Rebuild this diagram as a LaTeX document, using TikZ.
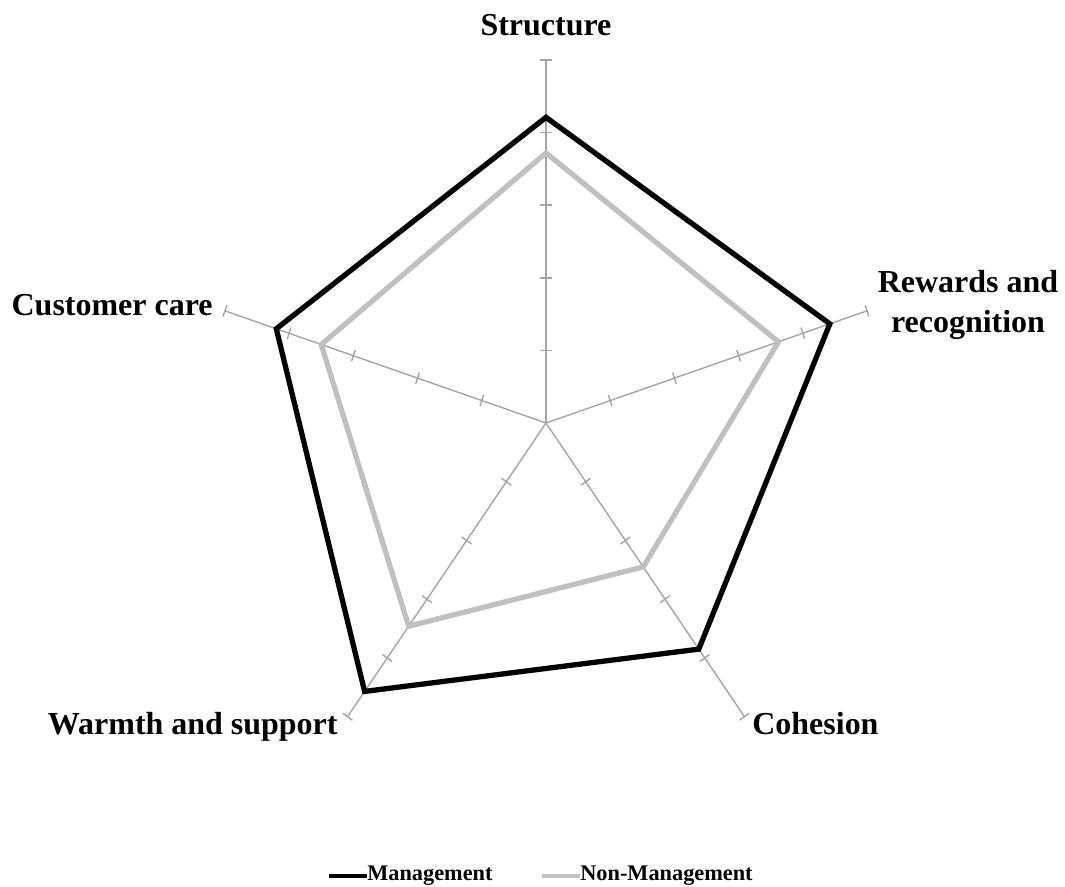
\documentclass[tikz,border=0pt]{standalone}
\usepackage{fontspec}
\setmainfont{Liberation Serif}
\usetikzlibrary{calc}
\definecolor{axisgray}{RGB}{165,165,165}
\definecolor{nmgray}{RGB}{192,192,192}
\begin{document}
\begin{tikzpicture}[
    axisline/.style={draw=axisgray, line width=0.8pt},
    mgmt/.style={draw=black, line width=3pt},
    nonmgmt/.style={draw=nmgray, line width=3pt},
    axlabel/.style={font=\fontsize{18.2}{22.8}\selectfont\bfseries, align=center, inner sep=0pt},
    legtext/.style={font=\fontsize{12.7}{15}\selectfont\bfseries, inner sep=0pt, anchor=west}]
  \useasboundingbox (-10.92,-9.26) rectangle (10.38,8.46);
  \begin{scope}[x=1.3504cm, y=1.452cm]
    % axes and their tick marks
    \foreach \a in {90,18,-54,-126,162} {
      \draw[axisline] (0,0) -- (\a:5);
      \foreach \k in {1,...,5}
        \draw[axisline] ($(\a:\k)+(\a+90:0.12cm)$) -- ($(\a:\k)+(\a-90:0.12cm)$);
    }
    % series
    \draw[nonmgmt] (90:3.72) -- (18:3.62) -- (-54:2.45) -- (-126:3.46) -- (162:3.5) -- cycle;
    \draw[mgmt] (90:4.21) -- (18:4.42) -- (-54:3.85) -- (-126:4.57) -- (162:4.2) -- cycle;
  \end{scope}
  % axis labels
  \node[axlabel] (lstruct) at (0,7.96) {Structure};
  \node[axlabel] (lreward) at (8.44,2.36) {Rewards and\\recognition};
  \node[axlabel, anchor=base west] (lcohes) at (4.12,-6.22) {Cohesion};
  \node[axlabel, anchor=base east] (lwarm) at (-4.16,-6.22) {Warmth and support};
  \node[axlabel, anchor=east] (lcust) at (-6.66,2.36) {Customer care};
  % legend
  \node[legtext] (legm) at (-3.58,-9.06) {Management};
  \node[legtext] (legn) at (0.68,-9.06) {Non-Management};
  \draw[mgmt, line width=2.4pt] ([xshift=-0.76cm]legm.west) -- (legm.west);
  \draw[nonmgmt, line width=2.4pt] ([xshift=-0.76cm]legn.west) -- (legn.west);
\end{tikzpicture}
\end{document}
